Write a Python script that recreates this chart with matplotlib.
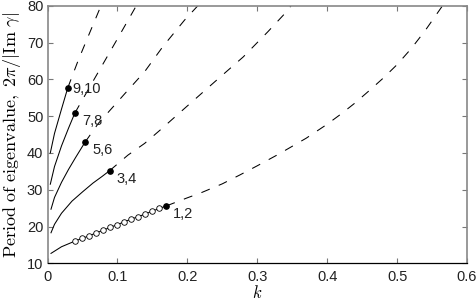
import matplotlib
matplotlib.use("Agg")
import matplotlib.pyplot as plt

plt.rcParams["mathtext.fontset"] = "cm"
plt.rcParams["font.family"] = ["Liberation Sans", "DejaVu Sans"]
plt.rcParams["lines.scale_dashes"] = False

#
# Data (k, period)
#
labels = ["1,2", "3,4", "5,6", "7,8", "9,10"]

# solid branches, ending at the filled dots
k12_solid = [0.005, 0.02, 0.04, 0.05, 0.06, 0.07, 0.08, 0.09, 0.10, 0.11, 0.12, 0.13, 0.14, 0.15, 0.16, 0.17]
p12_solid = [12.7, 14.5, 16.1, 16.8, 17.5, 18.3, 19.0, 19.8, 20.5, 21.3, 22.0, 22.7, 23.4, 24.2, 24.9, 25.6]
k34_solid = [0.005, 0.01, 0.02, 0.035, 0.05, 0.065, 0.078, 0.089]
p34_solid = [18.3, 20.6, 23.6, 26.9, 29.4, 31.8, 33.6, 35.2]
k56_solid = [0.005, 0.01, 0.02, 0.03, 0.04, 0.0536]
p56_solid = [24.7, 27.9, 32.0, 35.5, 38.7, 42.9]
k78_solid = [0.004, 0.01, 0.02, 0.03, 0.039]
p78_solid = [31.5, 36.3, 41.9, 46.7, 50.8]
k910_solid = [0.004, 0.01, 0.02, 0.029]
p910_solid = [40.0, 45.3, 51.9, 57.7]

# dashed continuations
k12_dash = [0.17, 0.20, 0.22, 0.25, 0.275, 0.30, 0.33, 0.35, 0.37, 0.40, 0.42, 0.44, 0.46, 0.48, 0.50, 0.52, 0.54, 0.565, 0.57]
p12_dash = [25.6, 27.8, 29.2, 31.6, 34.0, 36.5, 39.6, 41.8, 44.0, 47.8, 50.6, 53.6, 56.9, 60.3, 64.0, 68.3, 73.2, 80.0, 81.5]
k34_dash = [0.089, 0.115, 0.139, 0.161, 0.199, 0.239, 0.280, 0.315, 0.342, 0.352]
p34_dash = [35.2, 39.4, 42.6, 46.2, 52.6, 59.3, 66.1, 72.9, 78.4, 81.0]
k56_dash = [0.0536, 0.0726, 0.111, 0.139, 0.165, 0.196, 0.215, 0.22]
p56_dash = [42.9, 48.0, 56.2, 62.1, 68.9, 76.1, 80.0, 81.2]
k78_dash = [0.039, 0.06, 0.08, 0.10, 0.127, 0.131]
p78_dash = [50.8, 57.8, 64.4, 71.0, 80.0, 81.3]
k910_dash = [0.029, 0.044, 0.058, 0.0765, 0.079]
p910_dash = [57.7, 65.2, 71.6, 80.0, 81.2]

# open circles on the first branch
k_open = [0.04, 0.05, 0.06, 0.07, 0.08, 0.09, 0.10, 0.11, 0.12, 0.13, 0.14, 0.15, 0.16]
p_open = [16.1, 16.8, 17.5, 18.3, 19.0, 19.8, 20.5, 21.3, 22.0, 22.7, 23.4, 24.2, 24.9]

solids = [(k12_solid, p12_solid), (k34_solid, p34_solid), (k56_solid, p56_solid),
          (k78_solid, p78_solid), (k910_solid, p910_solid)]
dashes = [(k12_dash, p12_dash), (k34_dash, p34_dash), (k56_dash, p56_dash),
          (k78_dash, p78_dash), (k910_dash, p910_dash)]
# label offsets in pixels from the dot
offsets = [(7, -8), (7, -8), (7, -8), (7, -8), (5, -1)]

xticks = [0, 0.1, 0.2, 0.3, 0.4, 0.5, 0.6]
xticklabels = ["0", "0.1", "0.2", "0.3", "0.4", "0.5", "0.6"]
yticks = [10, 20, 30, 40, 50, 60, 70, 80]

#
# Plot
#
fig = plt.figure(figsize=(4.77, 3.03), dpi=100)
ax = fig.add_axes([0.0996, 0.131, 0.8794, 0.850])

for (ks, ps), (kd, pd_), lab, off in zip(solids, dashes, labels, offsets):
    ax.plot(kd, pd_, color="k", lw=0.75, dashes=(6.5, 7.0))
    ax.plot(ks, ps, color="k", lw=0.75)
    ax.plot(ks[-1], ps[-1], "o", color="k", ms=3.8)
    ax.annotate(lab, (ks[-1], ps[-1]), xytext=off, textcoords="offset pixels",
                fontsize=10.5, va="center", ha="left", color="#222222")

ax.plot(k_open, p_open, "o", mfc="white", mec="k", mew=0.6, ms=4, ls="none")

ax.set_xlim(0, 0.6)
ax.set_ylim(10, 80)
ax.set_xticks(xticks)
ax.set_xticklabels(xticklabels)
ax.set_yticks(yticks)
ax.tick_params(direction="in", length=3.5, width=0.8, top=True, right=True,
               labelsize=10.5, labelcolor="#222222", color="#777777")
ax.tick_params(axis="x", pad=5)
ax.tick_params(axis="y", pad=3)

for side in ["left", "right", "top"]:
    ax.spines[side].set_color("#888888")
    ax.spines[side].set_linewidth(1.2)
ax.spines["bottom"].set_color("k")
ax.spines["bottom"].set_linewidth(0.9)

ax.set_xlabel(r"$k$", fontsize=12, labelpad=0)
ax.set_ylabel(r"$\mathrm{Period\ of\ eigenvalue,}\ 2\pi/|\mathrm{Im}\ \gamma|$", fontsize=13, labelpad=3)

plt.savefig("out.png", dpi=100)
